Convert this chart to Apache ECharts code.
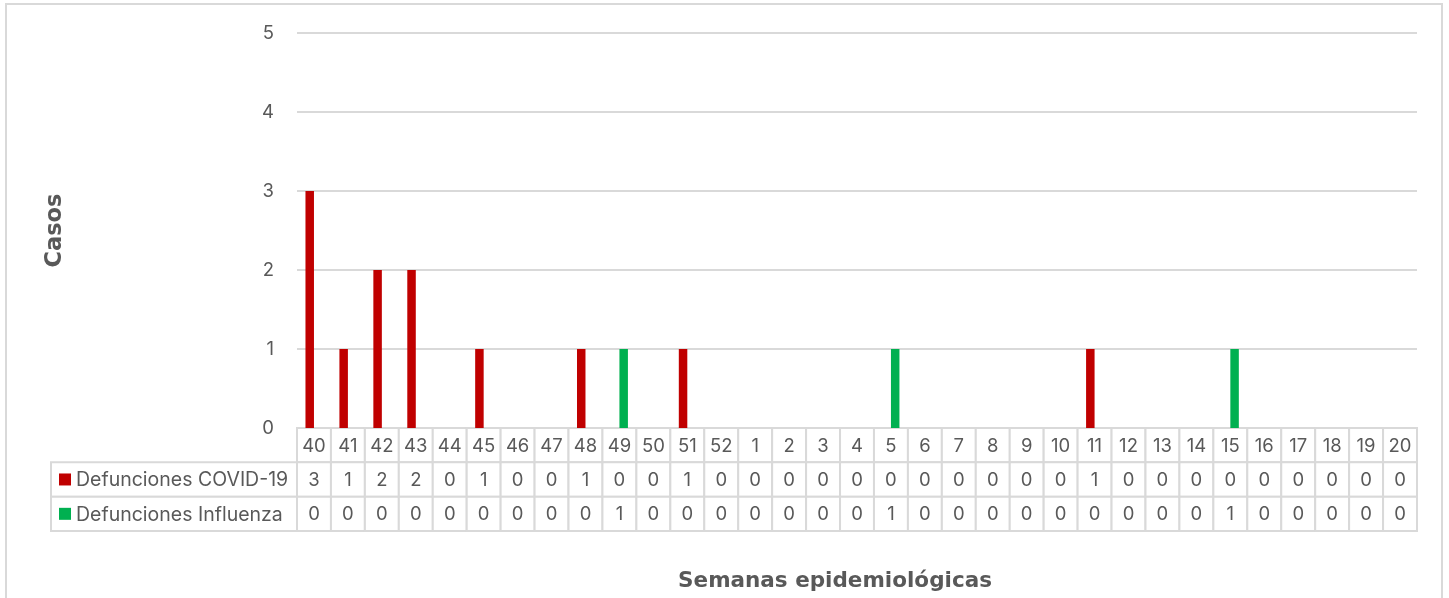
<!DOCTYPE html>
<html>
<head>
<meta charset="utf-8">
<script src="https://cdn.jsdelivr.net/npm/echarts@6/dist/echarts.min.js"></script>
<style>
  html, body { margin: 0; padding: 0; background: #ffffff; overflow: hidden; }
  #frame { position: absolute; left: 5px; top: 3px; width: 1438px; height: 700px; border: 2px solid #d9d9d9; box-sizing: border-box; }
  #chart { position: absolute; left: 0; top: 0; width: 1449px; height: 598px; }
</style>
</head>
<body>
<div id="frame"></div>
<div id="chart"></div>
<script>
// ---- data ----
const weeks = ['40','41','42','43','44','45','46','47','48','49','50','51','52',
  '1','2','3','4','5','6','7','8','9','10','11','12','13','14','15','16','17','18','19','20'];
const covid = [3,1,2,2,0,1,0,0,1,0,0,1,0, 0,0,0,0,0,0,0,0,0,0,1,0,0,0,0,0,0,0,0,0];
const influenza = [0,0,0,0,0,0,0,0,0,1,0,0,0, 0,0,0,0,1,0,0,0,0,0,0,0,0,0,1,0,0,0,0,0];
const seriesNames = ['Defunciones COVID-19', 'Defunciones Influenza'];
const seriesColors = ['#C00000', '#00B050'];
const yAxisTitle = 'Casos';
const xAxisTitle = 'Semanas epidemiológicas';
const yMin = 0, yMax = 5, yStep = 1;

// ---- style ----
const FONT = 'Inter';
const BOLD_FONT = 'DejaVu Sans';
const TXT = '#595959';
const LINE = '#d9d9d9';
const FS = 18.5;
const FS_LEGEND = 19.5;

// table values: row 0 = header (weeks), rows 1..2 = series values
const tableRows = ['header', 'covid', 'influenza'];
const tableData = [];
weeks.forEach((w, i) => {
  tableData.push([i, 0, w]);
  tableData.push([i, 1, String(covid[i])]);
  tableData.push([i, 2, String(influenza[i])]);
});
const legendData = seriesNames.map((n, i) => [0, i, n]);

function cellItem(params, api) {
  const c = api.coord([api.value(0), api.value(1)]);
  const s = api.size([1, 1]);
  const text = tableData[params.dataIndex][2];
  return {
    type: 'group',
    children: [
      { type: 'rect', shape: { x: c[0] - s[0] / 2, y: c[1] - s[1] / 2, width: s[0], height: s[1] },
        style: { fill: '#ffffff', stroke: LINE, lineWidth: 2 } },
      { type: 'text', style: { text: text, x: c[0], y: c[1] + 1, align: 'center', verticalAlign: 'middle',
        fill: TXT, fontSize: FS, fontFamily: FONT } }
    ]
  };
}
function legendItem(params, api) {
  const c = api.coord([api.value(0), api.value(1)]);
  const s = api.size([1, 1]);
  const i = params.dataIndex;
  const left = c[0] - s[0] / 2;
  return {
    type: 'group',
    children: [
      { type: 'rect', shape: { x: left, y: c[1] - s[1] / 2, width: s[0], height: s[1] },
        style: { fill: '#ffffff', stroke: LINE, lineWidth: 2 } },
      { type: 'rect', shape: { x: left + 8, y: c[1] - 6, width: 12, height: 12 },
        style: { fill: seriesColors[i] } },
      { type: 'text', style: { text: seriesNames[i], x: left + 25, y: c[1] + 1, align: 'left', verticalAlign: 'middle',
        fill: TXT, fontSize: FS_LEGEND, fontFamily: FONT } }
    ]
  };
}

const chart = echarts.init(document.getElementById('chart'), null, { renderer: 'canvas' });
chart.setOption({
  backgroundColor: 'transparent',
  animation: false,
  textStyle: { fontFamily: FONT },
  title: {
    text: xAxisTitle, left: 830, top: 565, textAlign: 'center',
    textStyle: { fontFamily: BOLD_FONT, fontSize: 21.5, fontWeight: 'bold', color: TXT }
  },
  grid: [
    { left: 297, right: 32, top: 33, height: 395 },
    { left: 297, right: 32, top: 428, height: 103 },
    { left: 51, width: 246, top: 462.3, height: 68.7 }
  ],
  xAxis: [
    { type: 'category', gridIndex: 0, data: weeks, axisLine: { show: false }, axisTick: { show: false },
      axisLabel: { show: false } },
    { type: 'category', gridIndex: 1, data: weeks, axisLine: { show: false }, axisTick: { show: false },
      axisLabel: { show: false } },
    { type: 'category', gridIndex: 2, data: ['label'], axisLine: { show: false }, axisTick: { show: false },
      axisLabel: { show: false } }
  ],
  yAxis: [
    { type: 'value', gridIndex: 0, min: yMin, max: yMax, interval: yStep,
      name: yAxisTitle, nameLocation: 'middle', nameRotate: 90, nameGap: 230,
      nameTextStyle: { fontFamily: BOLD_FONT, fontSize: 22.5, fontWeight: 'bold', color: TXT },
      axisLine: { show: false }, axisTick: { show: false },
      axisLabel: { fontSize: FS, color: TXT, margin: 23, fontFamily: FONT },
      splitLine: { lineStyle: { color: LINE, width: 2 } } },
    { type: 'category', gridIndex: 1, data: tableRows, inverse: true, show: false },
    { type: 'category', gridIndex: 2, data: seriesNames, inverse: true, show: false }
  ],
  series: [
    { name: seriesNames[0], type: 'bar', xAxisIndex: 0, yAxisIndex: 0, data: covid,
      barWidth: 8.5, barGap: '0%', itemStyle: { color: seriesColors[0] } },
    { name: seriesNames[1], type: 'bar', xAxisIndex: 0, yAxisIndex: 0, data: influenza,
      barWidth: 8.5, barGap: '0%', itemStyle: { color: seriesColors[1] } },
    { type: 'custom', xAxisIndex: 1, yAxisIndex: 1, data: tableData.map(d => [d[0], d[1]]),
      renderItem: cellItem, silent: true },
    { type: 'custom', xAxisIndex: 2, yAxisIndex: 2, data: legendData.map(d => [d[0], d[1]]),
      renderItem: legendItem, silent: true }
  ]
});
</script>
</body>
</html>
